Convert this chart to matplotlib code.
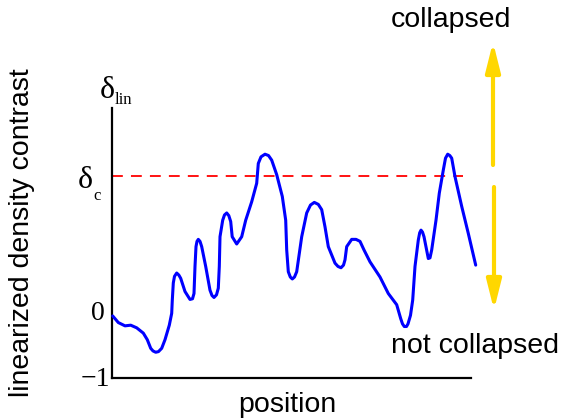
import matplotlib
matplotlib.use('Agg')
import matplotlib.pyplot as plt
import numpy as np

# curve (position, linearized density contrast)
position = [0.7, 6.3, 13, 18.7, 24.7, 31.3, 35.3, 38.7, 41, 43.7, 46.5, 49.7,
            53, 57.3, 59.7, 60.3, 61.3, 62.5, 64.7, 66.8, 68.7, 73, 78, 80.5,
            82, 83, 84, 85, 86.3, 88, 89.7, 93.7, 98, 100, 102, 104.5, 106.3,
            107.3, 108, 110.7, 112.5, 114.7, 116.8, 118.7, 120.2, 124.7, 129.7,
            133.7, 139.7, 144.7, 146.3, 149, 153, 156.5, 159.7, 164.7, 170.3,
            173.7, 174.7, 176.3, 178.3, 180.3, 182.5, 184.7, 189.7, 194.7,
            198.5, 202.3, 206.3, 209.7, 213, 216.3, 223, 226, 229, 231.5, 233,
            234.7, 239.7, 244, 248, 252, 258, 268, 276.3, 284.7, 288.7, 290.5,
            292.3, 294.5, 296, 298.5, 300.7, 303, 306.3, 307.7, 309, 310.5,
            312, 316.3, 318, 319.7, 324, 327.3, 331.3, 333.5, 335.7, 337.8,
            339.7, 343, 349.7, 356.3, 363.7]
delta = [-0.06, -0.16, -0.21, -0.20, -0.24, -0.32, -0.42, -0.55, -0.59, -0.61,
         -0.60, -0.55, -0.42, -0.20, -0.02, 0.18, 0.44, 0.54, 0.59, 0.56,
         0.51, 0.31, 0.19, 0.20, 0.28, 0.69, 0.99, 1.07, 1.10, 1.07, 0.99,
         0.69, 0.33, 0.25, 0.22, 0.26, 0.36, 0.69, 1.14, 1.39, 1.47, 1.50,
         1.46, 1.37, 1.14, 1.03, 1.14, 1.39, 1.67, 1.95, 2.25, 2.35, 2.39,
         2.37, 2.30, 2.08, 1.75, 1.39, 0.94, 0.61, 0.53, 0.50, 0.53, 0.61,
         1.14, 1.50, 1.62, 1.66, 1.63, 1.55, 1.29, 0.99, 0.74, 0.69, 0.67,
         0.71, 0.79, 0.99, 1.10, 1.10, 1.07, 0.94, 0.76, 0.53, 0.28, 0.11,
         -0.10, -0.18, -0.22, -0.22, -0.18, -0.05, 0.18, 0.69, 1.09, 1.20,
         1.24, 1.21, 1.14, 0.81, 0.82, 0.94, 1.39, 1.80, 2.15, 2.33, 2.39,
         2.37, 2.33, 2.05, 1.60, 1.19, 0.71]
delta_c = 2.06
dash_end = 351

W, H = 562, 419
fig = plt.figure(figsize=(W / 100, H / 100), dpi=100)
ax = fig.add_axes([112 / W, 1 - 378 / H, 359 / W, 270 / H])

ax.plot(position, delta, color='#0000ff', lw=2.2, clip_on=False, zorder=3,
        solid_joinstyle='round', solid_capstyle='round')
ax.plot([0, dash_end], [delta_c, delta_c], color='#ff0000', lw=1.3,
        dashes=(6, 4.5), zorder=2)

ax.set_xlim(0, 359)
ax.set_ylim(-1, 3.09)
for s in ['top', 'right']:
    ax.spines[s].set_visible(False)
for s in ['left', 'bottom']:
    ax.spines[s].set_linewidth(1.6)
ax.set_xticks([])
ax.set_yticks([])

serif = 'Liberation Serif'
sans = 'Liberation Sans'

def px(x, y):
    return x / W, 1 - y / H

fig.text(*px(105, 313), '0', family=serif, fontsize=20, ha='right', va='center')
fig.text(*px(110, 379), '\u22121', family=serif, fontsize=20, ha='right', va='center')
fig.text(*px(100, 98), '\u03b4', family=serif, fontsize=23, ha='left', va='baseline')
fig.text(*px(115, 104), 'lin', family=serif, fontsize=12, ha='left', va='baseline')
fig.text(*px(78, 188), '\u03b4', family=serif, fontsize=23, ha='left', va='baseline')
fig.text(*px(93, 200), 'c', family=serif, fontsize=12, ha='left', va='baseline')

fig.text(*px(22, 233), 'linearized density contrast', family=sans, fontsize=20.5,
         rotation=90, ha='center', va='center')
fig.text(*px(287, 405), 'position', family=sans, fontsize=20.5, ha='center', va='center')
fig.text(*px(451, 20), 'collapsed', family=sans, fontsize=20.5, ha='center', va='center')
fig.text(*px(475, 346), 'not collapsed', family=sans, fontsize=20.5, ha='center', va='center')

gold = '#ffd700'
arrow_kw = dict(arrowstyle='-|>,head_width=0.4,head_length=1.6', color=gold, lw=3)
fig.add_artist(matplotlib.patches.FancyArrowPatch(px(493, 165), px(493, 42),
               transform=fig.transFigure, shrinkA=0, shrinkB=0,
               mutation_scale=11, **arrow_kw))
fig.add_artist(matplotlib.patches.FancyArrowPatch(px(494, 187), px(494, 310),
               transform=fig.transFigure, shrinkA=0, shrinkB=0,
               mutation_scale=11, **arrow_kw))

fig.savefig('out.png', dpi=100)
